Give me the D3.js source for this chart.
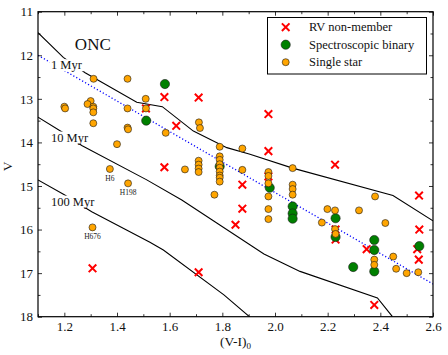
<!DOCTYPE html>
<html>
<head>
<meta charset="utf-8">
<script src="https://cdn.jsdelivr.net/npm/d3@7"></script>
<style>
  body { margin: 0; background: #fff; }
  svg { display: block; }
  svg text { font-family: "Liberation Serif", "DejaVu Serif", serif !important; }
</style>
</head>
<body>
<div id="chart"></div>
<script>
// RV non-members [V-I, V]
var rvNonMember = [
  [1.51, 13.22], [1.58, 12.96], [1.625, 13.62], [1.58, 14.57], [1.71, 12.97],
  [1.975, 13.35], [1.975, 14.20], [1.975, 14.78], [1.876, 14.97], [1.876, 15.52],
  [1.85, 15.89], [1.71, 16.98], [1.307, 16.89], [2.228, 14.51], [2.23, 16.0],
  [2.23, 16.23], [2.348, 16.45], [2.377, 17.73], [2.547, 15.22], [2.548, 16.0],
  [2.54, 16.45], [2.546, 16.69]
];

// spectroscopic binaries
var binaries = [
  [1.582, 12.66], [1.511, 13.5], [1.79, 14.55], [1.98, 15.04], [2.067, 15.47],
  [2.067, 15.63], [2.067, 15.75], [2.23, 15.74], [2.23, 16.17], [2.377, 16.24],
  [2.377, 16.47], [2.377, 16.96], [2.297, 16.86], [2.548, 16.38]
];

// single stars
var singles = [
  [1.2, 13.18], [1.203, 13.22],
  [1.311, 12.54], [1.30, 13.05], [1.288, 13.12], [1.31, 13.18], [1.31, 13.22], [1.31, 13.31], [1.31, 13.56],
  [1.44, 12.54], [1.44, 13.22], [1.44, 13.66], [1.442, 13.70],
  [1.40, 14.04], [1.373, 14.61], [1.442, 14.94], [1.307, 15.95],
  [1.509, 13.0], [1.51, 13.22], [1.585, 13.78],
  [1.711, 13.54], [1.715, 13.67], [1.658, 14.62],
  [1.71, 14.42], [1.71, 14.51], [1.71, 14.60], [1.71, 14.68],
  [1.79, 14.10], [1.79, 14.32], [1.79, 14.40], [1.79, 14.50], [1.79, 14.58], [1.79, 14.67], [1.79, 14.76], [1.79, 14.81], [1.79, 14.90],
  [1.77, 15.2], [1.876, 14.14], [1.876, 14.63],
  [1.975, 14.68], [1.975, 14.77], [1.975, 14.94], [1.975, 15.24], [1.975, 15.53], [1.975, 15.76],
  [2.067, 14.59], [2.067, 14.97], [2.067, 15.07], [2.067, 15.20],
  [2.199, 15.53], [2.228, 15.56], [2.178, 15.84], [2.228, 15.99], [2.23, 16.1],
  [2.319, 15.56], [2.38, 15.24], [2.419, 15.85], [2.377, 16.69], [2.377, 16.81],
  [2.449, 16.62], [2.46, 16.9], [2.50, 17.0], [2.544, 16.98]
];

// named stars
var starNames = [
  {name: "H6", x: 1.373, v: 14.61},
  {name: "H198", x: 1.442, v: 14.94},
  {name: "H676", x: 1.307, v: 15.95}
];

// isochrones
var iso1 = [[1.1, 11.48], [1.196, 12.05], [1.279, 12.40], [1.475, 13.08], [1.572, 13.18],
  [1.69, 13.74], [1.817, 14.12], [1.905, 14.27], [2.067, 14.59], [2.448, 15.22], [2.6, 15.80]];
var iso10 = [[1.1, 13.42], [1.196, 13.78], [1.266, 14.07], [1.513, 14.86], [1.646, 15.32],
  [1.958, 16.56], [2.095, 16.96], [2.389, 17.57], [2.446, 18.0]];
var iso100 = [[1.1, 14.86], [1.2, 15.20], [1.304, 15.59], [1.525, 16.29], [1.576, 16.47],
  [1.806, 17.50], [1.905, 18.01]];
var isoNames = ["1 Myr", "10 Myr", "100 Myr"];
var isoLabelPos = [[1.149, 12.32], [1.149, 13.98], [1.149, 15.45]];

// fitted sequence
var fitLine = [[1.1, 12.0], [2.6, 17.25]];

var xMajor = [1.2, 1.4, 1.6, 1.8, 2.0, 2.2, 2.4, 2.6];
var xMinor = [1.1, 1.3, 1.5, 1.7, 1.9, 2.1, 2.3, 2.5];
var yMajor = [11, 12, 13, 14, 15, 16, 17, 18];
var yMinor = [11.5, 12.5, 13.5, 14.5, 15.5, 16.5, 17.5];

var W = 448, H = 355;
var margin = {top: 11.7, right: 15, bottom: 38.3, left: 38},
    width = W - margin.left - margin.right,
    height = H - margin.top - margin.bottom;

var svg = d3.select("#chart").append("svg")
    .attr("width", W)
    .attr("height", H)
    .append("g")
    .attr("transform", "translate(" + margin.left + "," + margin.top + ")");

var x = d3.scaleLinear().domain([1.1, 2.6]).range([0, width]);
var y = d3.scaleLinear().domain([11, 18]).range([0, height]);

svg.append("clipPath").attr("id", "clip")
    .append("rect").attr("width", width).attr("height", height);

var plot = svg.append("g").attr("clip-path", "url(#clip)");

var line = d3.line().x(d => x(d[0])).y(d => y(d[1]));

// fit line
plot.append("path")
    .datum(fitLine)
    .attr("d", line)
    .attr("fill", "none")
    .attr("stroke", "#0000ff")
    .attr("stroke-width", 1.3)
    .attr("stroke-dasharray", "1.2,2.2");

// isochrones
[iso1, iso10, iso100].forEach(function(iso) {
    plot.append("path")
        .datum(iso)
        .attr("d", line)
        .attr("fill", "none")
        .attr("stroke", "#000")
        .attr("stroke-width", 1.1);
});

// isochrone labels with white box
isoNames.forEach(function(name, i) {
    var g = plot.append("g");
    var t = g.append("text")
        .attr("x", x(isoLabelPos[i][0]))
        .attr("y", y(isoLabelPos[i][1]))
        .attr("font-size", "12.5px")
        .attr("fill", "#111")
        .text(name);
    var bb = t.node().getBBox();
    g.insert("rect", "text")
        .attr("x", bb.x - 1.5)
        .attr("y", bb.y + 1)
        .attr("width", bb.width + 3)
        .attr("height", bb.height - 2)
        .attr("fill", "#fff");
});

// RV non-members
var xs = 3.8;
plot.selectAll(".rv")
    .data(rvNonMember)
    .enter()
    .append("path")
    .attr("class", "rv")
    .attr("transform", d => `translate(${x(d[0])},${y(d[1])})`)
    .attr("d", `M${-xs},${-xs}L${xs},${xs}M${-xs},${xs}L${xs},${-xs}`)
    .attr("stroke", "#ff0000")
    .attr("stroke-width", 2);

// binaries
plot.selectAll(".bin")
    .data(binaries)
    .enter()
    .append("circle")
    .attr("class", "bin")
    .attr("cx", d => x(d[0]))
    .attr("cy", d => y(d[1]))
    .attr("r", 4.6)
    .attr("fill", "#008000")
    .attr("stroke", "#1a1a1a")
    .attr("stroke-width", 0.6);

// single stars
plot.selectAll(".single")
    .data(singles)
    .enter()
    .append("circle")
    .attr("class", "single")
    .attr("cx", d => x(d[0]))
    .attr("cy", d => y(d[1]))
    .attr("r", 3.5)
    .attr("fill", "#ffa500")
    .attr("stroke", "#1a1a1a")
    .attr("stroke-width", 0.6);

// star names
plot.selectAll(".starname")
    .data(starNames)
    .enter()
    .append("text")
    .attr("class", "starname")
    .attr("x", d => x(d.x))
    .attr("y", d => y(d.v) + 12)
    .attr("text-anchor", "middle")
    .attr("font-size", "7.5px")
    .attr("fill", "#222")
    .text(d => d.name);

// ONC
svg.append("text")
    .attr("x", x(1.24))
    .attr("y", y(11.88))
    .attr("font-size", "17px")
    .attr("fill", "#111")
    .text("ONC");

// axes, ticks inward
function styleAxis(g) {
    g.select(".domain").remove();
    g.selectAll("line").attr("stroke", "#000").attr("stroke-width", 0.8);
    g.selectAll("text").attr("font-size", "13px").attr("fill", "#111");
}

svg.append("g")
    .attr("transform", "translate(0," + height + ")")
    .call(d3.axisBottom(x).tickValues(xMajor).tickFormat(d3.format(".1f")).tickSizeInner(-4).tickSizeOuter(0).tickPadding(5))
    .call(styleAxis);
svg.append("g")
    .attr("transform", "translate(0," + height + ")")
    .call(d3.axisBottom(x).tickValues(xMinor).tickFormat("").tickSizeInner(-2.5).tickSizeOuter(0))
    .call(styleAxis);
svg.append("g")
    .call(d3.axisTop(x).tickValues(xMajor).tickFormat("").tickSizeInner(-4).tickSizeOuter(0))
    .call(styleAxis);
svg.append("g")
    .call(d3.axisTop(x).tickValues(xMinor).tickFormat("").tickSizeInner(-2.5).tickSizeOuter(0))
    .call(styleAxis);

svg.append("g")
    .call(d3.axisLeft(y).tickValues(yMajor).tickFormat(d3.format("d")).tickSizeInner(-4).tickSizeOuter(0).tickPadding(5))
    .call(styleAxis);
svg.append("g")
    .call(d3.axisLeft(y).tickValues(yMinor).tickFormat("").tickSizeInner(-2.5).tickSizeOuter(0))
    .call(styleAxis);
svg.append("g")
    .attr("transform", "translate(" + width + ",0)")
    .call(d3.axisRight(y).tickValues(yMajor).tickFormat("").tickSizeInner(-4).tickSizeOuter(0))
    .call(styleAxis);
svg.append("g")
    .attr("transform", "translate(" + width + ",0)")
    .call(d3.axisRight(y).tickValues(yMinor).tickFormat("").tickSizeInner(-2.5).tickSizeOuter(0))
    .call(styleAxis);

// frame
svg.append("rect")
    .attr("width", width)
    .attr("height", height)
    .attr("fill", "none")
    .attr("stroke", "#000")
    .attr("stroke-width", 1.2);

// axis labels
var xl = svg.append("text")
    .attr("x", width / 2)
    .attr("y", height + 29.5)
    .attr("text-anchor", "middle")
    .attr("font-size", "13.5px")
    .attr("fill", "#111");
xl.append("tspan").text("(V-I)");
xl.append("tspan").attr("dy", 3).attr("font-size", "9px").text("0");

svg.append("text")
    .attr("transform", "rotate(-90)")
    .attr("x", -(y(14.55)))
    .attr("y", -margin.left + 11.5)
    .attr("text-anchor", "middle")
    .attr("font-size", "13.5px")
    .attr("fill", "#111")
    .text("V");

// legend
var legend = svg.append("g").attr("transform", "translate(229.5,5.8)");
legend.append("rect")
    .attr("width", 159)
    .attr("height", 56.5)
    .attr("fill", "#fff")
    .attr("stroke", "#000")
    .attr("stroke-width", 1);

var legendItems = ["RV non-member", "Spectroscopic binary", "Single star"];
legendItems.forEach(function(name, i) {
    var ly = 9.7 + i * 17.5;
    var lx = 18.2;
    if (i === 0) {
        legend.append("path")
            .attr("d", `M${lx - xs},${ly - xs}L${lx + xs},${ly + xs}M${lx - xs},${ly + xs}L${lx + xs},${ly - xs}`)
            .attr("stroke", "#ff0000")
            .attr("stroke-width", 2);
    } else {
        legend.append("circle")
            .attr("cx", lx)
            .attr("cy", ly)
            .attr("r", i === 1 ? 4.6 : 3.5)
            .attr("fill", i === 1 ? "#008000" : "#ffa500")
            .attr("stroke", "#1a1a1a")
            .attr("stroke-width", 0.6);
    }
    legend.append("text")
        .attr("x", 41.5)
        .attr("y", ly + 4.2)
        .attr("font-size", "12.5px")
        .attr("fill", "#111")
        .text(name);
});
</script>
</body>
</html>
